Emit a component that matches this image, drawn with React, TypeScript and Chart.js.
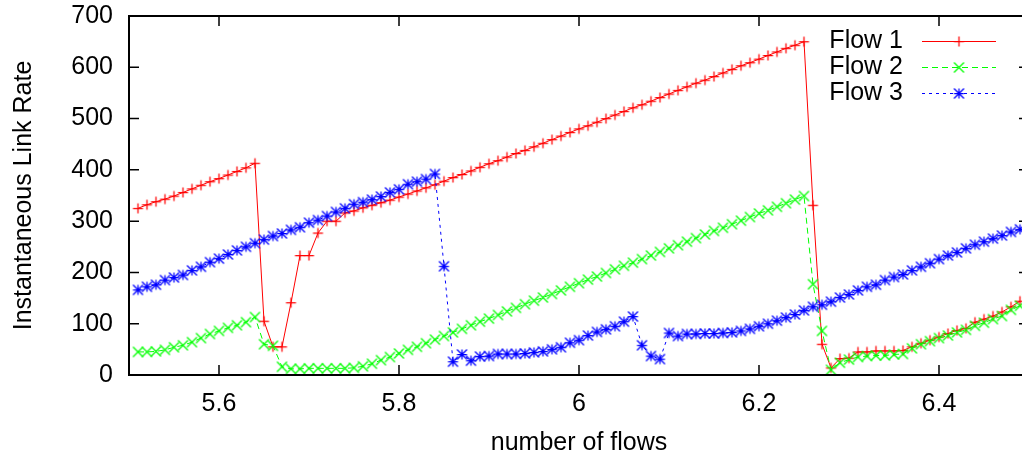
import React, { useEffect, useRef } from "react";
import { Chart, registerables } from "chart.js";

Chart.register(...registerables);

const X_VALUES = [
  5.51, 5.52, 5.53, 5.54, 5.55, 5.56, 5.57, 5.58, 5.59, 5.6,
  5.61, 5.62, 5.63, 5.64, 5.65, 5.66, 5.67, 5.68, 5.69, 5.7,
  5.71, 5.72, 5.73, 5.74, 5.75, 5.76, 5.77, 5.78, 5.79, 5.8,
  5.81, 5.82, 5.83, 5.84, 5.85, 5.86, 5.87, 5.88, 5.89, 5.9,
  5.91, 5.92, 5.93, 5.94, 5.95, 5.96, 5.97, 5.98, 5.99, 6.0,
  6.01, 6.02, 6.03, 6.04, 6.05, 6.06, 6.07, 6.08, 6.09, 6.1,
  6.11, 6.12, 6.13, 6.14, 6.15, 6.16, 6.17, 6.18, 6.19, 6.2,
  6.21, 6.22, 6.23, 6.24, 6.25, 6.26, 6.27, 6.28, 6.29, 6.3,
  6.31, 6.32, 6.33, 6.34, 6.35, 6.36, 6.37, 6.38, 6.39, 6.4,
  6.41, 6.42, 6.43, 6.44, 6.45, 6.46, 6.47, 6.48, 6.49,
];

const FLOW1 = [
  325, 332, 338, 343, 349, 356, 363, 370, 377, 383,
  390, 397, 404, 413, 105, 55, 55, 141, 233, 233,
  277, 300, 300, 316, 320, 326, 331, 336, 341, 347,
  353, 359, 365, 371, 378, 385, 391, 398, 405, 412,
  418, 425, 432, 438, 445, 452, 459, 466, 473, 480,
  486, 493, 500, 507, 514, 521, 527, 534, 541, 548,
  555, 562, 569, 575, 582, 589, 596, 603, 609, 616,
  623, 630, 637, 643, 650, 331, 60, 14, 32, 33,
  45, 45, 47, 47, 47, 48, 55, 62, 68, 74,
  81, 87, 91, 103, 109, 115, 123, 133, 144,
];

const FLOW2 = [
  45, 45, 46, 49, 54, 58, 64, 72, 80, 86,
  92, 97, 103, 113, 60, 57, 16, 12, 12, 13,
  13, 13, 13, 13, 14, 17, 22, 29, 35, 42,
  49, 55, 62, 69, 76, 83, 90, 97, 104, 110,
  117, 124, 131, 138, 145, 151, 158, 165, 172, 179,
  186, 192, 199, 206, 213, 219, 226, 233, 240, 247,
  253, 260, 267, 274, 281, 287, 294, 301, 308, 315,
  321, 328, 335, 342, 349, 177, 86, 10, 24, 30,
  35, 37, 38, 38, 40, 41, 52, 60, 66, 72,
  77, 83, 88, 96, 102, 109, 115, 127, 135,
];

const FLOW3 = [
  166, 172, 176, 185, 190, 195, 204, 211, 220, 227,
  235, 243, 250, 257, 264, 271, 276, 283, 288, 297,
  302, 310, 318, 325, 333, 337, 342, 348, 356, 362,
  372, 377, 382, 392, 212, 26, 40, 28, 36, 37,
  41, 41, 41, 42, 44, 46, 50, 54, 63, 68,
  77, 84, 89, 95, 104, 114, 58, 37, 31, 82,
  76, 80, 80, 81, 81, 82, 83, 86, 90, 95,
  100, 106, 112, 118, 126, 133, 137, 143, 151, 157,
  165, 172, 176, 185, 191, 196, 204, 211, 218, 226,
  233, 239, 247, 254, 260, 266, 272, 279, 284,
];

const SERIES_LABELS = ["Flow 1", "Flow 2", "Flow 3"];
const SERIES_COLORS = ["#ff0000", "#00ff00", "#0000ff"];
const SERIES_DASHES = [[], [6, 4], [3, 4]];
const SERIES_MARKERS = ["plus", "cross", "star"];

const X_TICKS = [5.6, 5.8, 6.0, 6.2, 6.4];
const Y_TICKS = [0, 100, 200, 300, 400, 500, 600, 700];

const X_TITLE = "number of flows";
const Y_TITLE = "Instantaneous Link Rate";

const FONT_FAMILY = '"Liberation Sans", Arial, Helvetica, sans-serif';

function makeMarker(kind: string, color: string): HTMLCanvasElement {
  const c = document.createElement("canvas");
  c.width = 13;
  c.height = 13;
  const g = c.getContext("2d")!;
  g.strokeStyle = color;
  g.lineWidth = 1.25;
  g.beginPath();
  if (kind === "plus" || kind === "star") {
    g.moveTo(1.5, 6.5);
    g.lineTo(11.5, 6.5);
    g.moveTo(6.5, 1.5);
    g.lineTo(6.5, 11.5);
  }
  if (kind === "cross" || kind === "star") {
    g.moveTo(1.5, 1.5);
    g.lineTo(11.5, 11.5);
    g.moveTo(11.5, 1.5);
    g.lineTo(1.5, 11.5);
  }
  g.stroke();
  return c;
}

export default function App() {
  const canvasRef = useRef<HTMLCanvasElement | null>(null);

  useEffect(() => {
    const canvas = canvasRef.current;
    if (!canvas) return;
    const markers = SERIES_COLORS.map((col, i) => makeMarker(SERIES_MARKERS[i], col));
    const seriesValues = [FLOW1, FLOW2, FLOW3];

    const framePlugin = {
      id: "gnuplotFrame",
      afterDraw(chart: any) {
        const { ctx, chartArea: a, scales } = chart;
        const xs = scales.x;
        const ys = scales.y;
        ctx.save();
        ctx.strokeStyle = "#000";
        ctx.lineWidth = 1.5;
        ctx.setLineDash([]);
        ctx.beginPath();
        Y_TICKS.forEach((v) => {
          const py = ys.getPixelForValue(v);
          ctx.moveTo(a.left, py);
          ctx.lineTo(a.left + 10, py);
          ctx.moveTo(a.right, py);
          ctx.lineTo(a.right - 10, py);
        });
        X_TICKS.forEach((v) => {
          const px = xs.getPixelForValue(v);
          ctx.moveTo(px, a.bottom);
          ctx.lineTo(px, a.bottom - 10);
          ctx.moveTo(px, a.top);
          ctx.lineTo(px, a.top + 10);
        });
        ctx.stroke();
        ctx.lineWidth = 2;
        ctx.strokeRect(a.left, a.top, a.right - a.left, a.bottom - a.top);

        // key
        ctx.font = `25px ${FONT_FAMILY}`;
        ctx.textAlign = "right";
        ctx.textBaseline = "middle";
        SERIES_LABELS.forEach((lab, i) => {
          const y = 41 + i * 26;
          ctx.fillStyle = "#000";
          ctx.fillText(lab, 903, y);
          ctx.strokeStyle = SERIES_COLORS[i];
          ctx.lineWidth = 1;
          ctx.setLineDash(SERIES_DASHES[i]);
          ctx.beginPath();
          ctx.moveTo(922, y + 0.5);
          ctx.lineTo(996, y + 0.5);
          ctx.stroke();
          ctx.setLineDash([]);
          ctx.drawImage(markers[i], 959 - 6.5, y + 0.5 - 6.5);
        });
        ctx.restore();
      },
    };

    const chart = new Chart(canvas, {
      type: "line",
      data: {
        datasets: SERIES_LABELS.map((label, i) => ({
          label,
          data: X_VALUES.map((x, j) => ({ x, y: seriesValues[i][j] })),
          borderColor: SERIES_COLORS[i],
          backgroundColor: SERIES_COLORS[i],
          borderWidth: 1,
          borderDash: SERIES_DASHES[i],
          pointStyle: markers[i] as any,
          pointRadius: 5,
          pointHoverRadius: 5,
          fill: false,
          tension: 0,
          order: 3 - i,
        })),
      },
      options: {
        animation: false,
        responsive: false,
        devicePixelRatio: 1,
        events: [],
        layout: { padding: { top: 16, right: 11, left: 0, bottom: 0 } },
        plugins: {
          legend: { display: false },
          tooltip: { enabled: false },
        },
        scales: {
          x: {
            type: "linear",
            min: 5.5,
            max: 6.5,
            afterBuildTicks: (s: any) => {
              s.ticks = X_TICKS.map((v) => ({ value: v }));
            },
            afterFit: (s: any) => {
              s.height = 83;
              s.paddingLeft = 0;
              s.paddingRight = 0;
            },
            grid: { display: false, drawTicks: false },
            border: { display: false },
            ticks: {
              padding: 14,
              color: "#000",
              font: { family: FONT_FAMILY, size: 25 },
              maxRotation: 0,
              autoSkip: false,
              callback: (v: any) => String(Math.round(Number(v) * 10) / 10),
            },
            title: {
              display: true,
              text: X_TITLE,
              color: "#000",
              font: { family: FONT_FAMILY, size: 25 },
              padding: { top: 0, bottom: 0 },
            },
          },
          y: {
            type: "linear",
            min: 0,
            max: 700,
            afterBuildTicks: (s: any) => {
              s.ticks = Y_TICKS.map((v) => ({ value: v }));
            },
            afterFit: (s: any) => {
              s.width = 129;
              s.paddingTop = 0;
              s.paddingBottom = 0;
            },
            grid: { display: false, drawTicks: false },
            border: { display: false },
            ticks: {
              padding: 16,
              color: "#000",
              font: { family: FONT_FAMILY, size: 25 },
              autoSkip: false,
              callback: (v: any) => String(v),
            },
            title: {
              display: true,
              text: Y_TITLE,
              color: "#000",
              font: { family: FONT_FAMILY, size: 25 },
              padding: { top: 9, bottom: 0 },
            },
          },
        },
      },
      plugins: [framePlugin],
    } as any);

    return () => {
      chart.destroy();
    };
  }, []);

  return (
    <div
      style={{
        position: "fixed",
        left: 0,
        top: 0,
        width: 1022,
        height: 458,
        overflow: "hidden",
        background: "#fff",
      }}
    >
      <canvas ref={canvasRef} width={1040} height={458} style={{ display: "block" }} />
    </div>
  );
}
